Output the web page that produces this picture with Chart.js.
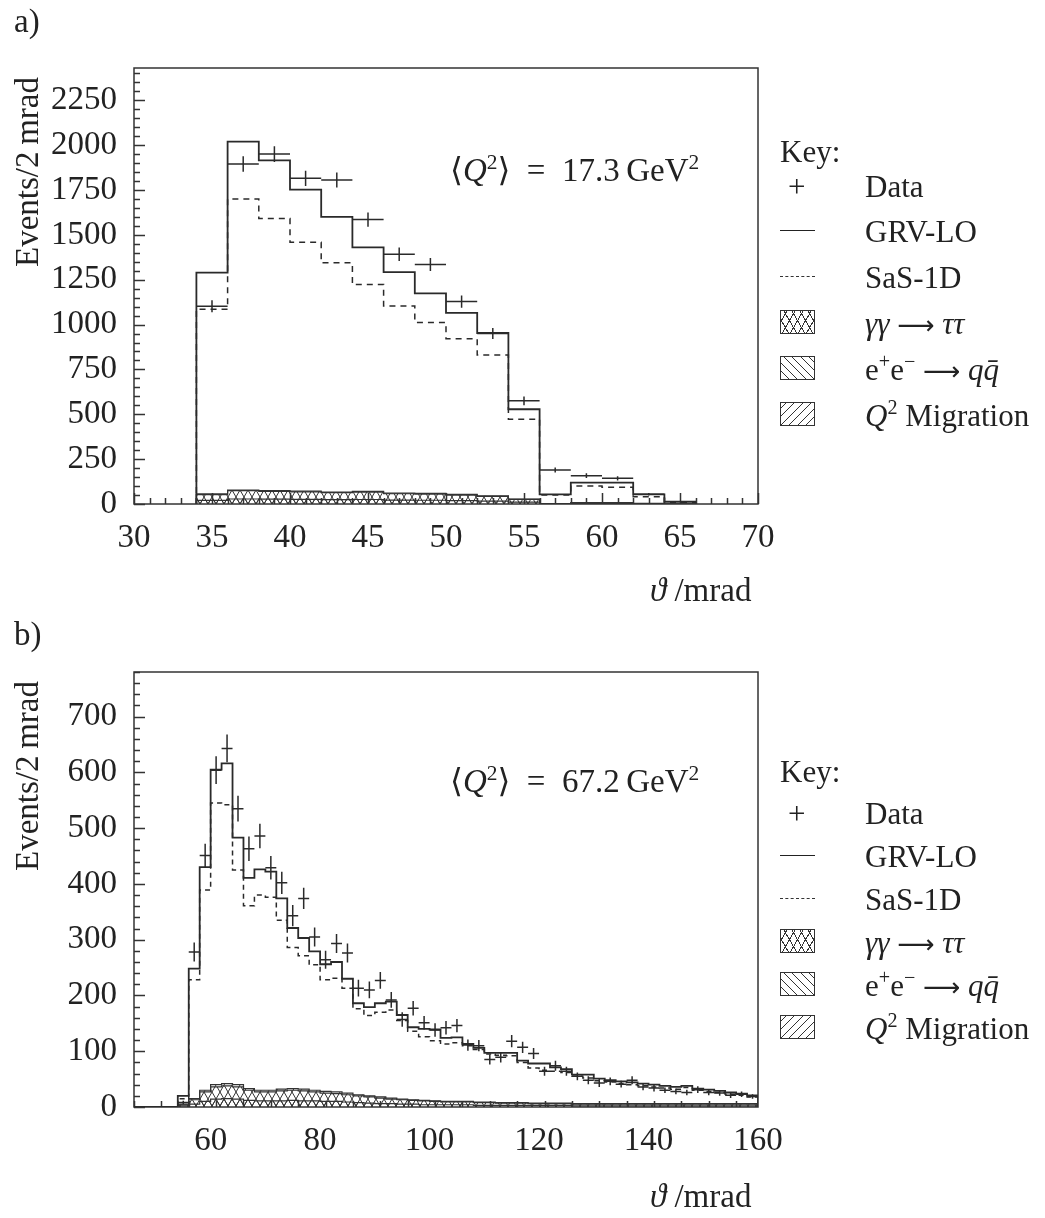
<!DOCTYPE html>
<html>
<head>
<meta charset="utf-8">
<title>Events / 2 mrad vs theta</title>
<script src="https://cdn.jsdelivr.net/npm/chart.js@4.4.1/dist/chart.umd.min.js"></script>
<style>
  html, body { margin: 0; padding: 0; background: #fff; }
  body { position: relative; width: 1045px; height: 1218px; overflow: hidden;
         font-family: "Liberation Serif", "DejaVu Serif", serif; color: #222; }
  canvas { position: absolute; left: 0; }
  #chartA { top: 0; }
  #chartB { top: 609px; }
  .t { position: absolute; white-space: nowrap; font-size: 31px; line-height: 1; transform: translateY(-50%); }
  .big { font-size: 33px; }
  .ytitle { position: absolute; white-space: nowrap; font-size: 33px; line-height: 1;
            transform: translate(-50%, -50%) rotate(-90deg); }
  .sym { position: absolute; left: 780px; width: 35px; box-sizing: border-box; }
  .solid { height: 0; border-top: 1.8px solid #222; }
  .dash { height: 0; border-top: 1.5px dashed #333; }
  .box { height: 24px; transform: translateY(-50%); border: 1.5px solid #333; }
  .cross { background-image:
      repeating-linear-gradient(60deg, transparent 0 6px, #333 6px 7px),
      repeating-linear-gradient(-60deg, transparent 0 6px, #333 6px 7px); }
  .back { background-image: repeating-linear-gradient(45deg, transparent 0 5px, #333 5px 6px); }
  .fwd { background-image: repeating-linear-gradient(-45deg, transparent 0 5px, #333 5px 6px); }
  .arr { font-family: "DejaVu Sans", sans-serif; font-size: 26px; }
  sup { font-size: 65%; vertical-align: 0.55em; line-height: 0; }
</style>
</head>
<body>
<canvas id="chartA" width="1045" height="609"></canvas>
<canvas id="chartB" width="1045" height="609"></canvas>

<!-- panel a texts -->
<div class="t big" style="left:14px; top:21px;">a)</div>
<div class="ytitle" style="left:27px; top:172px;">Events/2&#8201;mrad</div>
<div class="t big" style="left:650px; top:590px;"><i>ϑ</i> /mrad</div>
<div class="t big" style="left:450px; top:170px;">⟨<i>Q</i><sup>2</sup>⟩&ensp;=&ensp;17.3&#8201;GeV<sup>2</sup></div>
<div class="t" style="left:780px; top:151px;">Key:</div>
<div class="t" style="left:788px; top:186px;">+</div>
<div class="t" style="left:865px; top:186px;">Data</div>
<div class="sym solid" style="top:230px;"></div>
<div class="t" style="left:865px; top:231px;">GRV-LO</div>
<div class="sym dash" style="top:276px;"></div>
<div class="t" style="left:865px; top:277px;">SaS-1D</div>
<div class="sym box cross" style="top:322px;"></div>
<div class="t" style="left:865px; top:323px;"><i>γγ</i> <span class="arr">⟶</span> <i>ττ</i></div>
<div class="sym box back" style="top:368px;"></div>
<div class="t" style="left:865px; top:369px;">e<sup>+</sup>e<sup>−</sup> <span class="arr">⟶</span> <i>q</i><i>q̄</i></div>
<div class="sym box fwd" style="top:414px;"></div>
<div class="t" style="left:865px; top:415px;"><i>Q</i><sup>2</sup> Migration</div>

<!-- panel b texts -->
<div class="t big" style="left:14px; top:634px;">b)</div>
<div class="ytitle" style="left:27px; top:776px;">Events/2&#8201;mrad</div>
<div class="t big" style="left:650px; top:1196px;"><i>ϑ</i> /mrad</div>
<div class="t big" style="left:450px; top:781px;">⟨<i>Q</i><sup>2</sup>⟩&ensp;=&ensp;67.2&#8201;GeV<sup>2</sup></div>
<div class="t" style="left:780px; top:771px;">Key:</div>
<div class="t" style="left:788px; top:813px;">+</div>
<div class="t" style="left:865px; top:813px;">Data</div>
<div class="sym solid" style="top:855px;"></div>
<div class="t" style="left:865px; top:856px;">GRV-LO</div>
<div class="sym dash" style="top:898px;"></div>
<div class="t" style="left:865px; top:899px;">SaS-1D</div>
<div class="sym box cross" style="top:941px;"></div>
<div class="t" style="left:865px; top:942px;"><i>γγ</i> <span class="arr">⟶</span> <i>ττ</i></div>
<div class="sym box back" style="top:984px;"></div>
<div class="t" style="left:865px; top:985px;">e<sup>+</sup>e<sup>−</sup> <span class="arr">⟶</span> <i>q</i><i>q̄</i></div>
<div class="sym box fwd" style="top:1027px;"></div>
<div class="t" style="left:865px; top:1028px;"><i>Q</i><sup>2</sup> Migration</div>

<script>
// ---------- panel a: <Q2> = 17.3 GeV2 ----------
const edgesA = [34, 36, 38, 40, 42, 44, 46, 48, 50, 52, 54, 56, 58, 60, 62, 64];
const grvA   = [1290, 2020, 1915, 1752, 1600, 1430, 1292, 1174, 1065, 953, 528, 54, 119, 119, 54, 13];
const sasA   = [1086, 1700, 1591, 1459, 1344, 1223, 1104, 1012, 921, 830, 473, 50, 100, 93, 41, 9];
const dataA  = [1102, 1895, 1950, 1815, 1806, 1585, 1392, 1335, 1128, 950, 575, 190, 158, 143, 55, 12];
const errA   = [33, 43, 44, 42, 42, 40, 37, 36, 34, 31, 24, 14, 13, 12, 7, 4];
const tautauA = [20, 28, 27, 26, 24, 25, 22, 21, 19, 16, 10, 1, 3, 3, 1, 0];
const qqbarA  = [52, 74, 70, 68, 63, 66, 57, 55, 50, 43, 26, 2, 6, 6, 2, 0];
const migA    = [56, 78, 74, 72, 67, 70, 61, 59, 54, 46, 28, 2, 8, 8, 3, 0];
const xTicksA = [30, 35, 40, 45, 50, 55, 60, 65, 70];
const yTicksA = [0, 250, 500, 750, 1000, 1250, 1500, 1750, 2000, 2250];

// ---------- panel b: <Q2> = 67.2 GeV2 ----------
const edgesB = [46, 48, 50, 52, 54, 56, 58, 60, 62, 64, 66, 68, 70, 72, 74, 76, 78, 80, 82, 84,
  86, 88, 90, 92, 94, 96, 98, 100, 102, 104, 106, 108, 110, 112, 114, 116, 118, 120, 122, 124,
  126, 128, 130, 132, 134, 136, 138, 140, 142, 144, 146, 148, 150, 152, 154, 156, 158];
const grvB = [0, 0, 0, 0, 20,
  248, 430, 605, 616, 483, 411, 426, 422, 374, 321, 303, 279, 256, 260, 230, 186, 179, 186, 189, 165,
  143, 140, 139, 124, 125,
  113, 106, 97, 97, 97, 83, 78, 78, 71, 68, 58, 58, 51, 48, 46, 44, 42, 40, 38, 36, 38, 33, 31, 29,
  26, 24, 21];
const sasB = [0, 0, 0, 0, 15,
  228, 389, 545, 542, 425, 361, 380, 376, 335, 286, 271, 255, 228, 231, 213, 176, 164, 170, 174, 155,
  136, 126, 119, 113, 115,
  110, 103, 95, 93, 92, 80, 70, 66, 64, 62, 55, 52, 47, 45, 42, 40, 38, 36, 34, 32, 35, 30, 28, 26,
  23, 21, 18];
const dataB = [0, 0, 0, 0, 8,
  278, 451, 604, 643, 535, 463, 486, 429, 402, 343, 374, 305, 264, 293, 276, 213, 210, 227, 192, 157,
  177, 151, 138, 142, 146,
  111, 110, 85, 89, 118, 107, 96, 64, 74, 64, 55, 48, 43, 46, 41, 48, 36, 34, 30, 28, 26, 31, 26, 25,
  21, 23, 19];
const errB = [0, 0, 0, 0, 3,
  17, 21, 25, 25, 23, 22, 22, 21, 20, 19, 19, 17, 16, 17, 17, 15, 15, 15, 14, 13,
  13, 12, 12, 12, 12,
  10, 10, 9, 9, 11, 10, 10, 8, 9, 8, 7, 7, 7, 7, 6, 7, 6, 6, 5, 5, 5, 6, 5, 5,
  5, 5, 4];
const tautauB = [0, 0, 0, 0, 2,
  5, 10, 14, 15, 14, 12, 11, 11, 11, 12, 11, 11, 10, 10, 9, 8, 7, 6, 6, 5,
  5, 4, 4, 4, 4,
  4, 3, 3, 3, 3, 3, 3, 3, 3, 3, 2, 2, 2, 2, 2, 2, 2, 2, 2, 2, 2, 2, 2, 2,
  2, 2, 2];
const qqbarB = [0, 0, 0, 0, 4,
  13, 27, 36, 38, 36, 30, 27, 27, 29, 30, 29, 27, 25, 24, 22, 20, 18, 16, 14, 13,
  12, 11, 10, 9, 9,
  9, 8, 8, 7, 7, 7, 6, 6, 6, 6, 5, 5, 5, 5, 5, 5, 5, 5, 5, 5, 5, 5, 5, 5,
  5, 5, 5];
const migB = [0, 0, 0, 0, 5,
  15, 30, 40, 42, 40, 33, 30, 30, 32, 33, 32, 30, 28, 27, 25, 22, 20, 18, 16, 14,
  13, 12, 11, 10, 10,
  10, 9, 9, 8, 8, 8, 7, 7, 7, 7, 6, 6, 6, 6, 6, 6, 6, 6, 6, 6, 6, 6, 6, 6,
  6, 6, 6];
const xTicksB = [60, 80, 100, 120, 140, 160];
const yTicksB = [0, 100, 200, 300, 400, 500, 600, 700];

const BIN = 2; // mrad
const INK = '#2a2a2a';
const FONT = '"Liberation Serif", "DejaVu Serif", serif';

// histogram outline: points at left bin edges, stepped so each value holds across its bin
function stepPoints(edges, vals) {
  const pts = [{ x: edges[0], y: 0 }];
  edges.forEach((e, i) => pts.push({ x: e, y: vals[i] }));
  pts.push({ x: edges[edges.length - 1] + BIN, y: 0 });
  return pts;
}

function hatch(kind) {
  const w = 8, h = 14;
  const c = document.createElement('canvas');
  c.width = w; c.height = h;
  const g = c.getContext('2d');
  g.strokeStyle = '#333';
  g.lineWidth = 1;
  g.beginPath();
  for (const dx of [-w, 0, w]) {
    if (kind === '/' || kind === 'x') { g.moveTo(dx, h); g.lineTo(dx + w, 0); }
    if (kind === '\\' || kind === 'x') { g.moveTo(dx, 0); g.lineTo(dx + w, h); }
  }
  g.stroke();
  return c.getContext('2d').createPattern(c, 'repeat');
}

// frame plus inward ticks, placed with the chart's own scales
const frameTicks = {
  id: 'frameTicks',
  afterDatasetsDraw(chart, args, o) {
    const { ctx, chartArea: a, scales: { x, y } } = chart;
    ctx.save();
    ctx.strokeStyle = '#333';
    ctx.lineWidth = 1.5;
    ctx.beginPath();
    for (let v = x.min; v <= x.max + 1e-9; v += o.xMinor) {
      const len = Math.abs(v / o.xMajor - Math.round(v / o.xMajor)) < 1e-6 ? 11 : 6;
      const px = Math.round(x.getPixelForValue(v)) + 0.5;
      ctx.moveTo(px, a.bottom); ctx.lineTo(px, a.bottom - len);
    }
    for (let v = 0; v <= y.max + 1e-9; v += o.yMinor) {
      const len = Math.abs(v / o.yMajor - Math.round(v / o.yMajor)) < 1e-6 ? 11 : 6;
      const py = Math.round(y.getPixelForValue(v)) + 0.5;
      ctx.moveTo(a.left, py); ctx.lineTo(a.left + len, py);
    }
    ctx.stroke();
    ctx.strokeRect(a.left, a.top, a.right - a.left, a.bottom - a.top);
    ctx.restore();
  }
};

// data points: horizontal bar over the bin, vertical error bar
const dataCrosses = {
  id: 'dataCrosses',
  afterDatasetsDraw(chart) {
    const { ctx, chartArea: a, scales: { x, y } } = chart;
    ctx.save();
    ctx.beginPath();
    ctx.rect(a.left, a.top, a.right - a.left, a.bottom - a.top);
    ctx.clip();
    ctx.strokeStyle = INK;
    ctx.lineWidth = 1.5;
    chart.data.datasets.forEach(ds => {
      if (!ds.errors) return;
      ds.data.forEach((p, i) => {
        const px = x.getPixelForValue(p.x);
        const py = y.getPixelForValue(p.y);
        ctx.beginPath();
        ctx.moveTo(x.getPixelForValue(p.x - BIN / 2), py);
        ctx.lineTo(x.getPixelForValue(p.x + BIN / 2), py);
        ctx.moveTo(px, y.getPixelForValue(p.y - ds.errors[i]));
        ctx.lineTo(px, y.getPixelForValue(p.y + ds.errors[i]));
        ctx.stroke();
      });
    });
    ctx.restore();
  }
};

function makeChart(id, p) {
  const centers = p.edges.map(e => e + BIN / 2);
  const fillSet = (vals, pattern, order) => ({
    data: stepPoints(p.edges, vals), stepped: 'before', fill: 'origin',
    backgroundColor: pattern, borderColor: '#333', borderWidth: 1.2,
    pointRadius: 0, order
  });
  return new Chart(document.getElementById(id), {
    type: 'line',
    data: {
      datasets: [
        { type: 'scatter', data: centers.map((c, i) => ({ x: c, y: p.data[i] })),
          errors: p.err, pointRadius: 0, showLine: false, order: 0 },
        { data: stepPoints(p.edges, p.grv), stepped: 'before', borderColor: INK,
          borderWidth: 1.8, pointRadius: 0, fill: false, order: 1 },
        { data: stepPoints(p.edges, p.sas), stepped: 'before', borderColor: INK,
          borderWidth: 1.5, borderDash: p.dash, pointRadius: 0, fill: false, order: 2 },
        fillSet(p.mig, hatch('/'), 3),
        fillSet(p.qq, hatch('\\'), 4),
        fillSet(p.tt, hatch('x'), 5)
      ]
    },
    options: {
      responsive: false,
      devicePixelRatio: 1,
      animation: false,
      layout: { padding: { left: 0, top: p.top, right: 287, bottom: 0 } },
      plugins: { legend: { display: false }, tooltip: { enabled: false }, frameTicks: p.ticks },
      scales: {
        x: {
          type: 'linear', min: p.xmin, max: p.xmax,
          grid: { display: false }, border: { display: false },
          ticks: { color: '#222', font: { family: FONT, size: 33 }, padding: 7, maxRotation: 0,
                   callback: v => String(v) },
          afterBuildTicks: s => { s.ticks = p.xTicks.map(v => ({ value: v })); },
          afterFit: s => { s.height = p.xh; }
        },
        y: {
          min: 0, max: p.ymax,
          grid: { display: false }, border: { display: false },
          ticks: { color: '#222', font: { family: FONT, size: 33 }, padding: 9,
                   callback: v => String(v) },
          afterBuildTicks: s => { s.ticks = p.yTicks.map(v => ({ value: v })); },
          afterFit: s => { s.width = 134; }
        }
      }
    },
    plugins: [frameTicks, dataCrosses]
  });
}

makeChart('chartA', {
  edges: edgesA, grv: grvA, sas: sasA, data: dataA, err: errA,
  tt: tautauA, qq: qqbarA, mig: migA, dash: [6, 5],
  xmin: 30, xmax: 70, ymax: 2430, xTicks: xTicksA, yTicks: yTicksA,
  top: 68, xh: 105, ticks: { xMinor: 1, xMajor: 5, yMinor: 50, yMajor: 250 }
});

makeChart('chartB', {
  edges: edgesB, grv: grvB, sas: sasB, data: dataB, err: errB,
  tt: tautauB, qq: qqbarB, mig: migB, dash: [5, 4],
  xmin: 46, xmax: 160, ymax: 780, xTicks: xTicksB, yTicks: yTicksB,
  top: 63, xh: 111, ticks: { xMinor: 5, xMajor: 20, yMinor: 20, yMajor: 100 }
});
</script>
</body>
</html>
